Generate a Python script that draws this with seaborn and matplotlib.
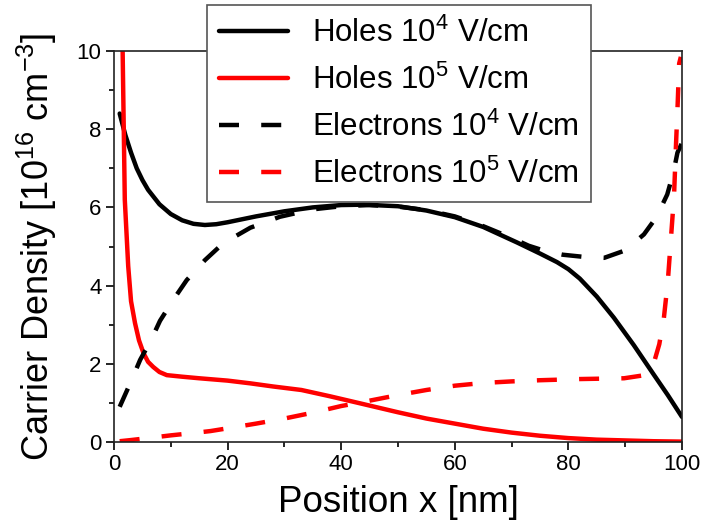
import numpy as np
import pandas as pd
import matplotlib
matplotlib.use("Agg")
import matplotlib.pyplot as plt
import seaborn as sns
from matplotlib.ticker import MultipleLocator

# ---- data ----
holes_e4_x = [1, 2, 3, 4, 5, 6, 8, 10, 12, 14, 16, 18, 20, 25, 30, 35, 40, 44, 50, 55,
              60, 65, 68, 71, 75, 78, 80, 82, 85, 88, 91.5, 95, 97.5, 100]
holes_e4_y = [8.4, 7.85, 7.4, 7.0, 6.7, 6.45, 6.08, 5.83, 5.67, 5.58, 5.55, 5.57, 5.62, 5.77,
              5.9, 6.0, 6.06, 6.07, 6.03, 5.92, 5.75, 5.5, 5.3, 5.1, 4.82, 4.6, 4.42, 4.18,
              3.72, 3.18, 2.48, 1.73, 1.2, 0.64]

holes_e5_x = [1.5, 1.9, 2.5, 3.0, 3.7, 4.4, 5.2, 6.0, 6.9, 8.0, 9.3, 12, 15, 20, 24, 28,
              33, 38, 43, 50, 55, 60, 65, 70, 75, 80, 85, 90, 95, 100]
holes_e5_y = [10.2, 6.2, 4.5, 3.6, 3.04, 2.6, 2.27, 2.05, 1.92, 1.79, 1.71, 1.67, 1.63,
              1.57, 1.5, 1.42, 1.33, 1.17, 1.0, 0.76, 0.6, 0.47, 0.34, 0.24, 0.16, 0.1,
              0.06, 0.04, 0.02, 0.01]

elec_e4_x = [1, 3, 4.6, 6.5, 8.1, 10.5, 12.8, 16, 19.2, 24, 29.2, 35, 40, 45, 50, 55,
             60, 65, 70, 73, 76, 79, 83, 86.3, 90, 93.3, 95.5, 97.4, 98.5, 99.2, 100]
elec_e4_y = [0.9, 1.55, 2.1, 2.6, 3.1, 3.65, 4.14, 4.65, 5.08, 5.48, 5.76, 5.95, 6.03,
             6.06, 6.02, 5.93, 5.77, 5.52, 5.22, 5.02, 4.88, 4.79, 4.73, 4.71, 4.9,
             5.31, 5.75, 6.33, 6.9, 7.4, 7.65]

elec_e5_x = [1, 3, 6, 10, 14, 17, 20, 25, 30, 35, 40, 43, 50, 55, 60, 65, 70, 75, 82,
             89.8, 93, 95.1, 96, 96.8, 97.5, 98.1, 98.6, 98.9, 99.2, 99.5, 99.8]
elec_e5_y = [0.02, 0.05, 0.1, 0.17, 0.23, 0.28, 0.35, 0.47, 0.6, 0.75, 0.92, 1.0, 1.2,
             1.33, 1.44, 1.51, 1.55, 1.58, 1.61, 1.63, 1.7, 2.05, 2.5, 3.16, 4.1, 5.3,
             6.3, 7.45, 8.5, 9.68, 9.85]

labels = ["Holes 10$^4$ V/cm", "Holes 10$^5$ V/cm",
          "Electrons 10$^4$ V/cm", "Electrons 10$^5$ V/cm"]

sns.set_theme(style="ticks")
plt.rcParams["font.family"] = ["Liberation Sans", "DejaVu Sans"]
plt.rcParams["mathtext.default"] = "regular"
plt.rcParams["axes.unicode_minus"] = False
for k in ["text.color", "axes.labelcolor", "xtick.color", "ytick.color", "axes.edgecolor"]:
    plt.rcParams[k] = "black"

fig = plt.figure(figsize=(7.04, 5.23), dpi=100)
ax = fig.add_axes([114 / 704, 1 - 442 / 523, (682 - 114) / 704, (442 - 51) / 523])

lw = 3.2
series = [
    (holes_e4_x, holes_e4_y, "black", "-", labels[0]),
    (holes_e5_x, holes_e5_y, "#ff0000", "-", labels[1]),
    (elec_e4_x, elec_e4_y, "black", "--", labels[2]),
    (elec_e5_x, elec_e5_y, "#ff0000", "--", labels[3]),
]
for xs, ys, c, ls, lab in series:
    df = pd.DataFrame({"x": xs, "y": ys})
    sns.lineplot(data=df, x="x", y="y", ax=ax, color=c, linewidth=lw,
                 label=lab, sort=False, estimator=None)
    ln = ax.get_lines()[-1]
    if ls == "--":
        ln.set_dashes((4.5, 5))

ax.set_xlim(0, 100)
ax.set_ylim(0, 10)
ax.xaxis.set_major_locator(MultipleLocator(20))
ax.xaxis.set_minor_locator(MultipleLocator(10))
ax.yaxis.set_major_locator(MultipleLocator(2))
ax.yaxis.set_minor_locator(MultipleLocator(1))
ax.tick_params(which="major", direction="out", length=6, width=1.2, labelsize=16,
               colors="black", bottom=True, left=True, top=False, right=False, pad=3)
ax.tick_params(which="minor", direction="out", length=3.5, width=1.2,
               bottom=True, left=True, top=False, right=False)
for s in ax.spines.values():
    s.set_visible(True)
    s.set_color("#222222")
    s.set_linewidth(1.2)

ax.set_xlabel("Position x [nm]", fontsize=26.5, labelpad=7)
ax.set_ylabel("Carrier Density [10$^{16}$ cm$^{-3}$]", fontsize=26, labelpad=13)

leg = ax.legend(loc="upper left", bbox_to_anchor=(207 / 704, 1 - 5 / 523),
                bbox_transform=fig.transFigure, fontsize=22.5, frameon=True,
                fancybox=False, framealpha=1, edgecolor="#555555",
                handlelength=2.2, handletextpad=0.75, labelspacing=0.5,
                borderpad=0.4, borderaxespad=0)
leg.get_frame().set_linewidth(1.2)
leg.set_zorder(5)

fig.savefig("out.png", dpi=100, facecolor="white")
